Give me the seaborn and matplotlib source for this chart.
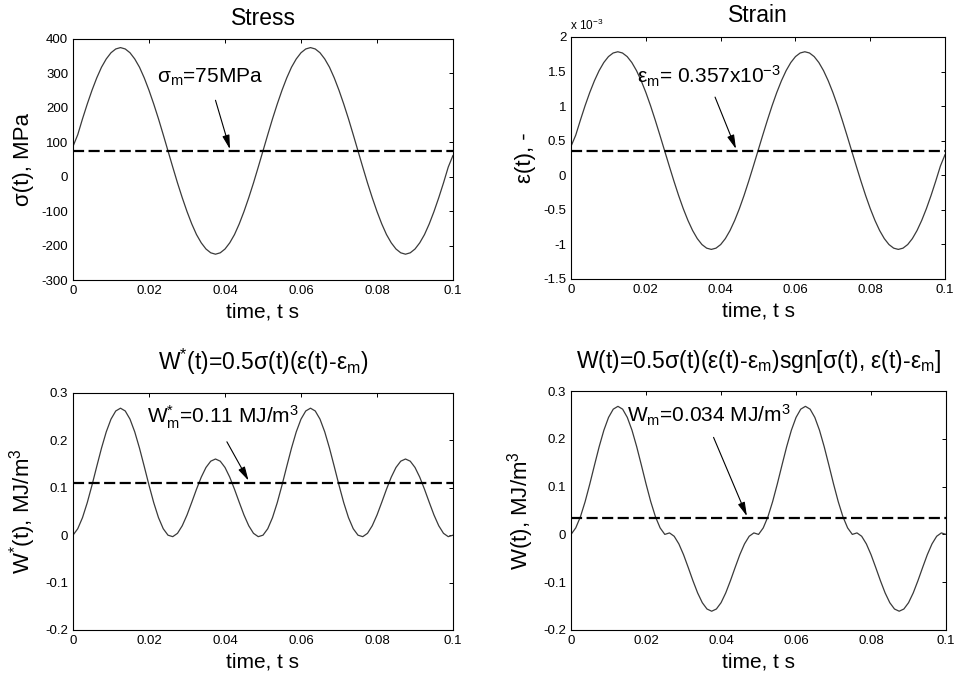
import numpy as np
import pandas as pd
import matplotlib
matplotlib.use("Agg")
import matplotlib.pyplot as plt
import seaborn as sns
from matplotlib.ticker import FuncFormatter

# ---- data -------------------------------------------------------------
time_s = np.linspace(0.0, 0.1, 81)

stress_mpa = [88, 122, 168, 211, 251, 287, 318, 342, 360, 371, 375, 371, 360, 342, 318, 287, 251, 211, 168, 122,
              75, 28, -18, -61, -101, -137, -168, -192, -210, -221, -225, -221, -210, -192, -168, -137, -101, -61, -18, 28,
              75, 122, 168, 211, 251, 287, 318, 342, 360, 371, 375, 371, 360, 342, 318, 287, 251, 211, 168, 122,
              75, 28, -18, -61, -101, -137, -168, -192, -210, -221, -225, -221, -210, -192, -168, -137, -101, -61, -18, 28,
              62]

strain_e3 = [0.42, 0.580, 0.798, 1.006, 1.197, 1.367, 1.513, 1.630, 1.716, 1.768, 1.786, 1.768, 1.716, 1.630, 1.513, 1.367, 1.197, 1.006, 0.798, 0.580,
             0.357, 0.134, -0.084, -0.292, -0.483, -0.653, -0.799, -0.916, -1.002, -1.054, -1.072, -1.054, -1.002, -0.916, -0.799, -0.653, -0.483, -0.292, -0.084, 0.134,
             0.357, 0.580, 0.798, 1.006, 1.197, 1.367, 1.513, 1.630, 1.716, 1.768, 1.786, 1.768, 1.716, 1.630, 1.513, 1.367, 1.197, 1.006, 0.798, 0.580,
             0.357, 0.134, -0.084, -0.292, -0.483, -0.653, -0.799, -0.916, -1.002, -1.054, -1.072, -1.054, -1.002, -0.916, -0.799, -0.653, -0.483, -0.292, -0.084, 0.134,
             0.30]

wstar_mj = [0.0, 0.0136, 0.0370, 0.0685, 0.1055, 0.1450, 0.1836, 0.2179, 0.2448, 0.2620, 0.2679, 0.2620, 0.2448, 0.2179, 0.1836, 0.1450, 0.1055, 0.0685, 0.0370, 0.0136,
            0.0, -0.0031, 0.0039, 0.0199, 0.0425, 0.0693, 0.0969, 0.1224, 0.1429, 0.1561, 0.1607, 0.1561, 0.1429, 0.1224, 0.0969, 0.0693, 0.0425, 0.0199, 0.0039, -0.0031,
            0.0, 0.0136, 0.0370, 0.0685, 0.1055, 0.1450, 0.1836, 0.2179, 0.2448, 0.2620, 0.2679, 0.2620, 0.2448, 0.2179, 0.1836, 0.1450, 0.1055, 0.0685, 0.0370, 0.0136,
            0.0, -0.0031, 0.0039, 0.0199, 0.0425, 0.0693, 0.0969, 0.1224, 0.1429, 0.1561, 0.1607, 0.1561, 0.1429, 0.1224, 0.0969, 0.0693, 0.0425, 0.0199, 0.0039, -0.0031,
            0.0]

w_mj = [0.0, 0.0136, 0.0370, 0.0685, 0.1055, 0.1450, 0.1836, 0.2179, 0.2448, 0.2620, 0.2679, 0.2620, 0.2448, 0.2179, 0.1836, 0.1450, 0.1055, 0.0685, 0.0370, 0.0136,
        0.0, 0.0031, -0.0039, -0.0199, -0.0425, -0.0693, -0.0969, -0.1224, -0.1429, -0.1561, -0.1607, -0.1561, -0.1429, -0.1224, -0.0969, -0.0693, -0.0425, -0.0199, -0.0039, 0.0031,
        0.0, 0.0136, 0.0370, 0.0685, 0.1055, 0.1450, 0.1836, 0.2179, 0.2448, 0.2620, 0.2679, 0.2620, 0.2448, 0.2179, 0.1836, 0.1450, 0.1055, 0.0685, 0.0370, 0.0136,
        0.0, 0.0031, -0.0039, -0.0199, -0.0425, -0.0693, -0.0969, -0.1224, -0.1429, -0.1561, -0.1607, -0.1561, -0.1429, -0.1224, -0.0969, -0.0693, -0.0425, -0.0199, -0.0039, 0.0031,
        0.0]

mean_values = [75, 0.357, 0.11, 0.034]

titles = ["Stress", "Strain",
          r"W$^{*}$(t)=0.5σ(t)(ε(t)-ε$_{m}$)",
          r"W(t)=0.5σ(t)(ε(t)-ε$_{m}$)sgn[σ(t), ε(t)-ε$_{m}$]"]
ylabels = ["σ(t), MPa", "ε(t), -", r"W$^{*}$(t), MJ/m$^{3}$", r"W(t), MJ/m$^{3}$"]
mean_labels = [r"σ$_{m}$=75MPa", r"ε$_{m}$= 0.357x10$^{-3}$",
               r"W$^{*}_{m}$=0.11 MJ/m$^{3}$", r"W$_{m}$=0.034 MJ/m$^{3}$"]
x_ticks = [0, 0.02, 0.04, 0.06, 0.08, 0.1]
y_ticks = [[-300, -200, -100, 0, 100, 200, 300, 400],
           [-1.5, -1, -0.5, 0, 0.5, 1, 1.5, 2],
           [-0.2, -0.1, 0, 0.1, 0.2, 0.3],
           [-0.2, -0.1, 0, 0.1, 0.2, 0.3]]

# ---- style ------------------------------------------------------------
sns.set_theme(style="white")
plt.rcParams.update({
    "font.family": ["Liberation Sans", "DejaVu Sans"],
    "mathtext.fontset": "custom",
    "mathtext.rm": "Liberation Sans",
    "mathtext.it": "Liberation Sans",
    "mathtext.bf": "Liberation Sans:bold",
    "axes.unicode_minus": False,
    "axes.edgecolor": "black",
    "axes.linewidth": 0.8,
    "text.color": "black",
    "axes.labelcolor": "black",
    "axes.titlecolor": "black",
    "xtick.color": "black",
    "ytick.color": "black",
})

fig = plt.figure(figsize=(9.63, 6.78), dpi=100)
positions = [
    [0.0758, 0.587, 0.3946, 0.3555],
    [0.593, 0.5885, 0.3884, 0.357],
    [0.0758, 0.0708, 0.3946, 0.3496],
    [0.593, 0.0708, 0.3894, 0.3525],
]
series = [stress_mpa, strain_e3, wstar_mj, w_mj]
title_pads = [10, 11, 16.5, 16.5]

# annotation placement (text anchor, arrow tail, arrow head) in data units
text_xy = [(0.0222, 272), (0.0175, 1.32), (0.0195, 0.236), (0.0150, 0.234)]
arrow_from = [(0.0375, 222), (0.0385, 1.13), (0.0405, 0.197), (0.0380, 0.203)]
arrow_to = [(0.0413, 80), (0.0441, 0.38), (0.0462, 0.115), (0.0469, 0.038)]

fmt = FuncFormatter(lambda v, p: f"{v:g}")

for i in range(4):
    ax = fig.add_axes(positions[i])
    df = pd.DataFrame({"t": time_s, "v": series[i]})
    sns.lineplot(data=df, x="t", y="v", ax=ax, color="#3a3a3a", linewidth=0.9)
    ax.axhline(mean_values[i], color="black", linewidth=1.6, dashes=(5, 2))

    ax.set_xlim(0, 0.1)
    ax.set_ylim(y_ticks[i][0], y_ticks[i][-1])
    ax.set_xticks(x_ticks)
    ax.set_yticks(y_ticks[i])
    ax.xaxis.set_major_formatter(fmt)
    ax.yaxis.set_major_formatter(fmt)
    ax.tick_params(direction="in", top=True, right=True, length=3, width=0.7,
                   labelsize=9.5, pad=3.5, colors="black")
    for sp in ax.spines.values():
        sp.set_visible(True)
        sp.set_color("black")
        sp.set_linewidth(0.8)

    ax.set_title(titles[i], fontsize=16.5, pad=title_pads[i], color="black")
    ax.set_xlabel("time, t s", fontsize=15, labelpad=4, color="black")
    ax.set_ylabel(ylabels[i], fontsize=16, labelpad=5, color="black")

    ax.text(text_xy[i][0], text_xy[i][1], mean_labels[i], fontsize=15,
            ha="left", va="baseline", color="black")
    ax.annotate("", xy=arrow_to[i], xytext=arrow_from[i],
                arrowprops=dict(arrowstyle="-|>,head_width=0.18,head_length=0.7",
                                color="black", lw=0.8, shrinkA=0, shrinkB=0))

fig.text(570 / 963, 1 - 30 / 678, r"x 10$^{-3}$", fontsize=8.5, ha="left",
         va="baseline", color="black")

fig.savefig("out.png", dpi=100)
